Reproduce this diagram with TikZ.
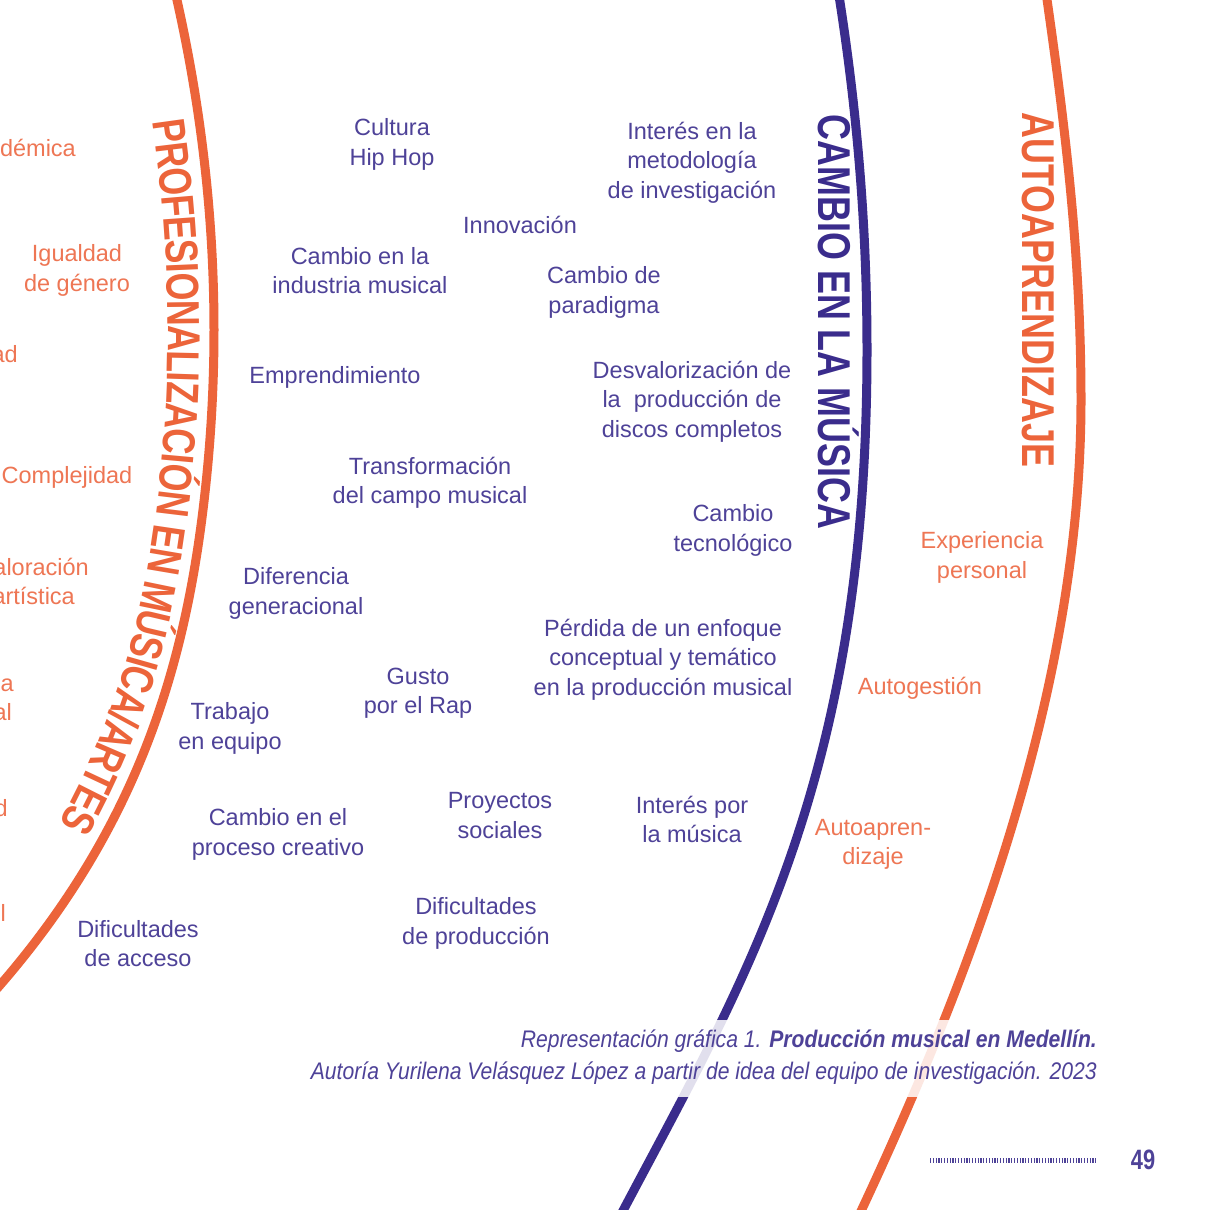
\documentclass[tikz,border=0pt]{standalone}
\usepackage{fontspec}
\setmainfont{Liberation Sans}
\newfontfamily\bodyfont{Liberation Sans}
\newfontfamily\labfont{Liberation Sans}[FakeStretch=0.78]
\newfontfamily\capfont{Liberation Sans}[FakeStretch=0.88]
\usetikzlibrary{decorations.text}
\definecolor{tblue}{RGB}{78,66,152}
\definecolor{bcurve}{RGB}{58,44,140}
\definecolor{torange}{RGB}{238,118,84}
\definecolor{ocurve}{RGB}{236,100,58}
\tikzset{
  btxt/.style={font=\bodyfont\fontsize{23.5}{29.3}\selectfont, text=tblue, align=center, inner sep=0pt, yshift=-2.5pt},
  otxt/.style={btxt, text=torange},
  curveline/.style={line width=9pt},
  labtext/.style={font=\labfont\bfseries\fontsize{46}{46}\selectfont, inner sep=0pt},
  declare function={Lx(\s)=214-3.4*(\s-3.3)*(\s-3.3)-0.596*max(0,\s-5)*max(0,\s-5)*max(0,\s-5);},
}
\begin{document}
\begin{tikzpicture}[x=1pt,y=-1pt]
\useasboundingbox (0,0) rectangle (1210,1210);
\fill[white] (0,0) rectangle (1210,1210);
\begin{scope}
\clip (0,0) rectangle (1210,1210);
% curves
\draw[curveline, ocurve] plot[domain=-0.4:10.2, samples=120, variable=\s, smooth] ({Lx(\s)}, {100*\s});
\draw[curveline, bcurve] (834,-35) .. controls (856,95) and (867,220) .. (867,350)
  .. controls (867,800) and (735,995) .. (605,1245);
\draw[curveline, ocurve] (1042,-35) .. controls (1064,115) and (1081,250) .. (1081,400)
  .. controls (1081,700) and (962,1000) .. (845,1245);
% curve labels
\path[decorate, decoration={text along path, text color=ocurve,
  text={|\labfont\bfseries\fontsize{46}{46}\selectfont|PROFESIONALIZACIÓN EN MÚSICA/ARTES},
  text align={left indent=158pt}, raise=-46pt}]
  plot[domain=-0.4:10.2, samples=120, variable=\s, smooth] ({Lx(\s)}, {100*\s});
\node[labtext, text=bcurve, rotate=-90] (cambio) at (839,322) {CAMBIO EN LA MÚSICA};
\node[labtext, text=ocurve, rotate=-90] (autoap) at (1038,290) {AUTOAPRENDIZAJE};
% left clipped fragments
\node[otxt, anchor=east] (f1) at (76,145) {démica};
\node[otxt, anchor=east] (f2) at (18,352) {ad};
\node[otxt, anchor=east] (f3) at (89,564) {aloración};
\node[otxt, anchor=east] (f4) at (75,593) {artística};
\node[otxt, anchor=east] (f5) at (14,681) {ia};
\node[otxt, anchor=east] (f6) at (12,710) {al};
\node[otxt, anchor=east] (f7) at (8,806) {d};
\node[otxt, anchor=east] (f8) at (6,910) {l};
\end{scope}
% orange texts
\node[otxt] (igual) at (77,268) {Igualdad\\de género};
\node[otxt] (compl) at (67,475) {Complejidad};
\node[otxt] (exper) at (982,555) {Experiencia\\personal};
\node[otxt] (autog) at (920,686) {Autogestión};
\node[otxt] (autoa) at (873,842) {Autoapren-\\dizaje};
% blue texts
\node[btxt] (cult) at (392,142) {Cultura\\Hip Hop};
\node[btxt] (inter) at (692,160) {Interés en la\\metodología\\de investigación};
\node[btxt] (innov) at (520,222) {Innovación};
\node[btxt] (indus) at (360,268) {Cambio en la\\industria musical};
\node[btxt] (parad) at (604,290) {Cambio de\\paradigma};
\node[btxt] (empre) at (335,375) {Emprendimiento};
\node[btxt] (desva) at (692,399) {Desvalorización de\\la\ \ producción de\\discos completos};
\node[btxt] (trans) at (430,480) {Transformación\\del campo musical};
\node[btxt] (tecno) at (733,528) {Cambio\\tecnológico};
\node[btxt] (difer) at (296,591) {Diferencia\\generacional};
\node[btxt] (perdi) at (663,657) {Pérdida de un enfoque\\conceptual y temático\\en la producción musical};
\node[btxt] (gusto) at (418,691) {Gusto\\por el Rap};
\node[btxt] (traba) at (230,726) {Trabajo\\en equipo};
\node[btxt] (proce) at (278,832) {Cambio en el\\proceso creativo};
\node[btxt] (proye) at (500,813) {Proyectos\\sociales};
\node[btxt] (musica) at (692,817) {Interés por\\la música};
\node[btxt] (difpr) at (476,921) {Dificultades\\de producción};
\node[btxt] (difac) at (138,941) {Dificultades\\de acceso};
% caption band
\fill[white, opacity=0.85] (310,1020) rectangle (1110,1097);
\node[font=\capfont\itshape\fontsize{24}{32}\selectfont, text=tblue, inner sep=0pt, anchor=east] (cap1) at (1097,1041) {Representación gráfica 1. \textbf{Producción musical en Medellín.}};
\node[font=\capfont\itshape\fontsize{24}{32}\selectfont, text=tblue, inner sep=0pt, anchor=east] (cap2) at (1097,1073) {Autoría Yurilena Velásquez López a partir de idea del equipo de investigación. 2023};
% footer
\draw[tblue, line width=5pt, dash pattern=on 1.2pt off 1.6pt] (930,1160) -- (1097,1160);
\node[font=\labfont\bfseries\fontsize{28}{28}\selectfont, text=tblue, inner sep=0pt] (page) at (1143,1160) {49};
\end{tikzpicture}
\end{document}
